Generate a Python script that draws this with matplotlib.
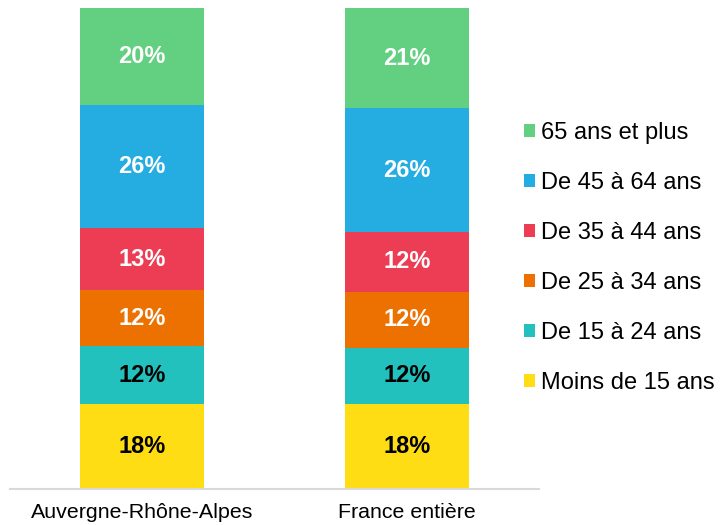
import matplotlib
matplotlib.use("Agg")
import matplotlib.pyplot as plt
from matplotlib.patches import Patch
import numpy as np

plt.rcParams['font.family'] = ['Liberation Sans', 'DejaVu Sans']

categories = ["Auvergne-Rhône-Alpes", "France entière"]
series_names = ["Moins de 15 ans", "De 15 à 24 ans", "De 25 à 34 ans",
                "De 35 à 44 ans", "De 45 à 64 ans", "65 ans et plus"]
moins15 = [17.6, 17.6]
de15_24 = [12.1, 11.8]
de25_34 = [11.7, 11.6]
de35_44 = [12.8, 12.4]
de45_64 = [25.6, 25.8]
plus65 = [20.2, 20.8]
series = [moins15, de15_24, de25_34, de35_44, de45_64, plus65]

colors = ["#FFDD15", "#22C1BD", "#ED7100", "#EC3D55", "#25ADE2", "#62CF81"]
label_colors = ["black", "black", "white", "white", "white", "white"]

fig = plt.figure(figsize=(7.2, 5.25), dpi=100)
ax = fig.add_axes([10/720, 36/525, 529/720, 481/525])

x = np.arange(len(categories))
bottom = np.zeros(len(categories))
for vals, col, lc in zip(series, colors, label_colors):
    bars = ax.bar(x, vals, width=0.469, bottom=bottom, color=col, linewidth=0)
    ax.bar_label(bars, labels=[f"{v:.0f}%" for v in vals], label_type='center',
                 color=lc, fontsize=17, fontweight='bold')
    bottom += np.array(vals)

ax.set_xlim(-0.5, 1.5)
ax.set_ylim(0, bottom.max())
ax.set_xticks(x)
ax.set_xticklabels(categories, fontsize=15.4)
ax.tick_params(axis='x', length=0, pad=10)
ax.set_yticks([])
for s in ['top', 'right', 'left']:
    ax.spines[s].set_visible(False)
ax.spines['bottom'].set_color('#D9D9D9')
ax.spines['bottom'].set_linewidth(1.5)

handles = [Patch(facecolor=c, edgecolor='none') for c in colors][::-1]
labels = series_names[::-1]
fig.legend(handles, labels, loc='center left', bbox_to_anchor=(524/720, 1 - 258/525),
           frameon=False, fontsize=17, handlelength=0.47, handleheight=0.47,
           handletextpad=0.25, labelspacing=1.19, borderaxespad=0, borderpad=0)

fig.savefig("out.png", dpi=100)
